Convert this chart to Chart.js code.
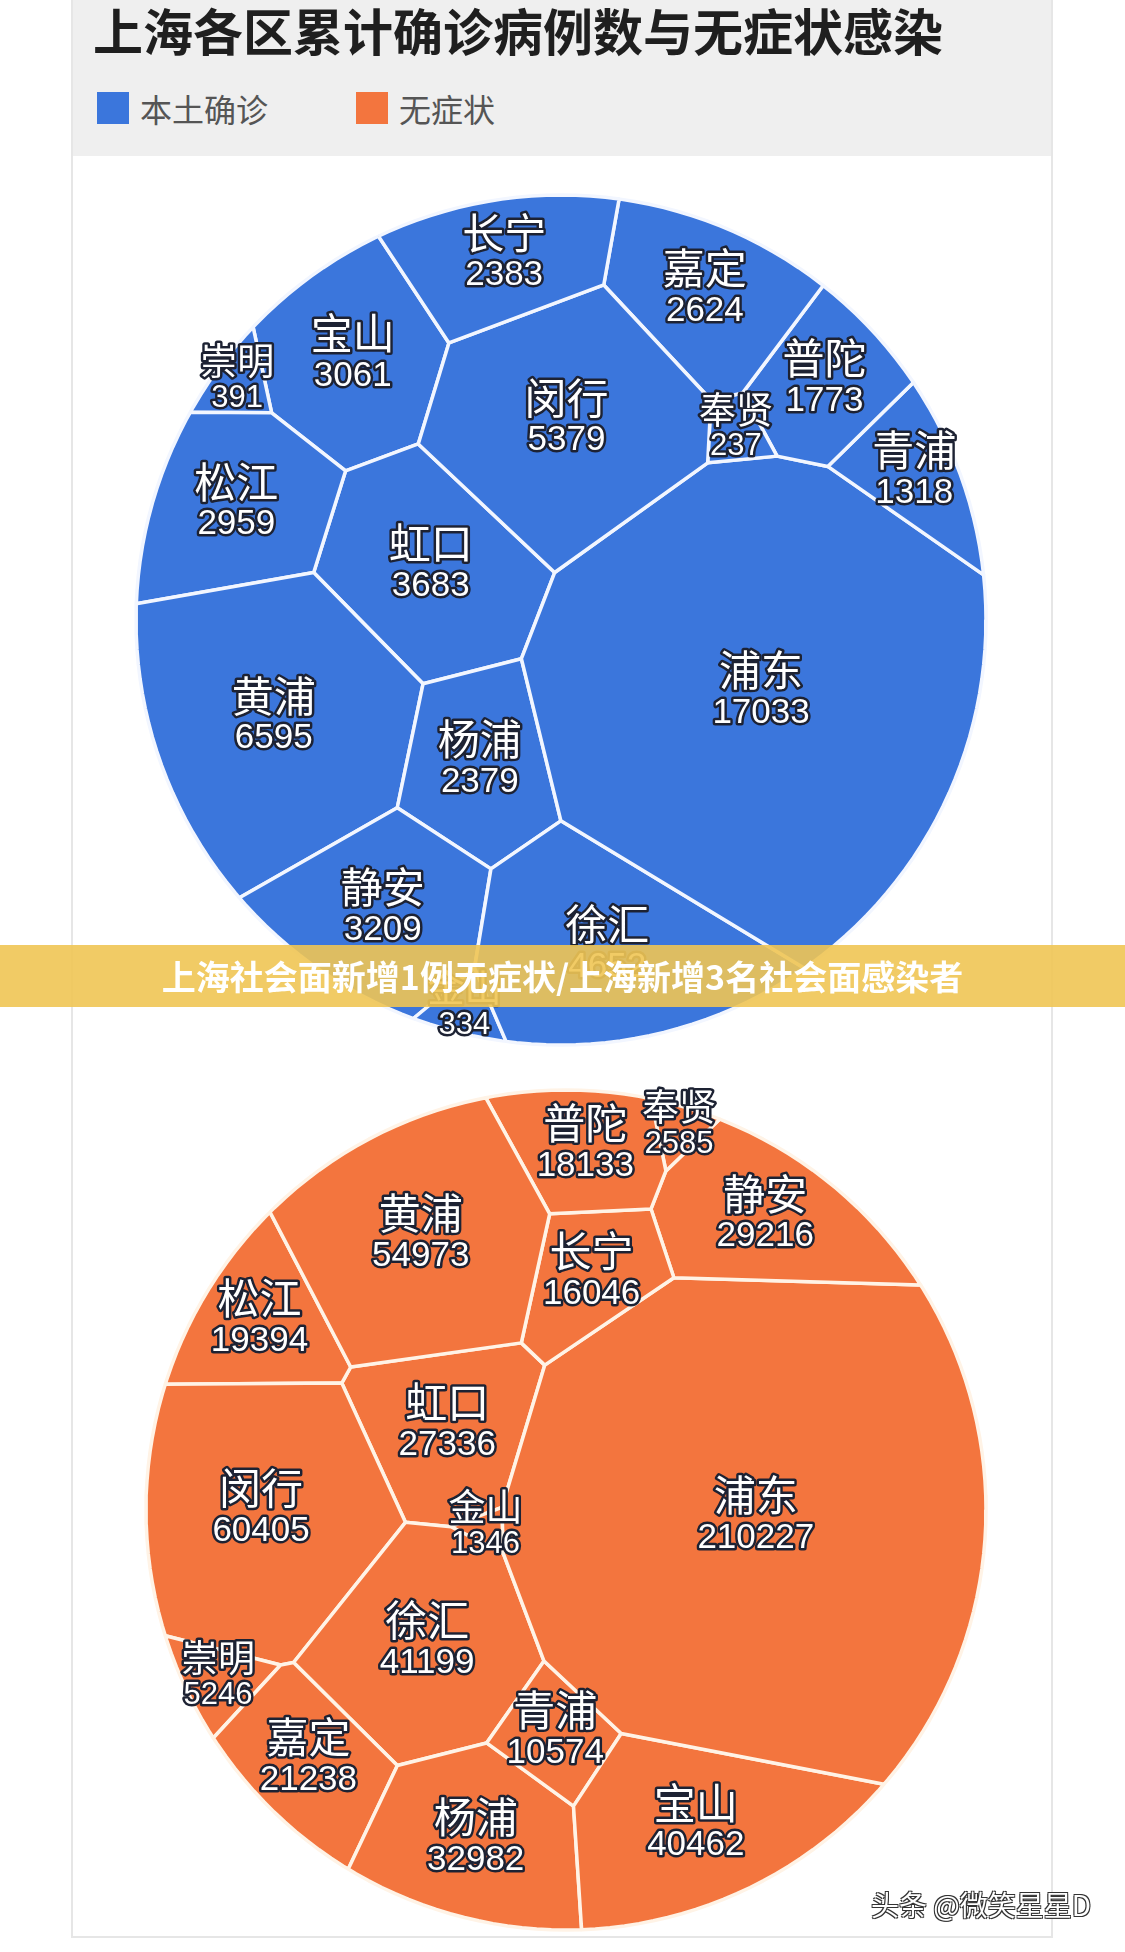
<!DOCTYPE html>
<html lang="zh">
<head>
<meta charset="utf-8">
<title>上海各区累计确诊病例数与无症状感染</title>
<script src="https://cdn.jsdelivr.net/npm/chart.js@4.4.1/dist/chart.umd.min.js"></script>
<style>
  html, body { margin: 0; padding: 0; background: #fff; }
  body { position: relative; width: 1125px; height: 1952px; overflow: hidden; font-family: "Noto Sans CJK SC", sans-serif; }
  #card { position: absolute; left: 71px; top: 0; width: 978px; height: 1936px; background: #fff; border: 2px solid #e6e6e6; border-top: none; }
  #head { position: absolute; left: 0; top: 0; width: 100%; height: 156px; background: #efefef; }
  #title { position: absolute; left: 20px; top: 0; font-size: 50px; line-height: 58px; font-weight: 700; color: #1f1f1f; white-space: nowrap; }
  #legend { position: absolute; left: 24px; top: 88px; height: 40px; display: flex; align-items: center; font-size: 32px; color: #555; }
  .item { display: flex; align-items: center; margin-right: 88px; }
  .sw { width: 32px; height: 32px; margin-right: 11px; }
  canvas { position: absolute; }
  #banner { position: absolute; left: 0; top: 945px; width: 1125px; height: 62px; background: rgba(240, 197, 84, 0.9);
            color: #fff; font-size: 34px; font-weight: 700; line-height: 62px; text-align: center; z-index: 5; }
  #wm { position: absolute; left: 871px; top: 1884px; font-size: 28px; color: #fff; z-index: 5;
        text-shadow: -1px -1px 0 #333, 1px -1px 0 #333, -1px 1px 0 #333, 1px 1px 0 #333; }
</style>
</head>
<body>
<div id="card">
  <div id="head">
    <div id="title">上海各区累计确诊病例数与无症状感染</div>
    <div id="legend"></div>
  </div>
</div>
<canvas id="blueChart" width="880" height="880" style="left:121px;top:180px"></canvas>
<canvas id="orangeChart" width="880" height="880" style="left:126px;top:1070px"></canvas>
<div id="banner">上海社会面新增1例无症状/上海新增3名社会面感染者</div>
<div id="wm">头条 @微笑星星D</div>
<script>
// 本土确诊 (clockwise order round the circle)
const blueNames  = ['长宁', '闵行', '嘉定', '奉贤', '普陀', '青浦', '浦东', '徐汇', '金山', '静安', '杨浦', '黄浦', '松江', '虹口', '崇明', '宝山'];
const blueValues = [2383, 5379, 2624, 237, 1773, 1318, 17033, 4652, 334, 3209, 2379, 6595, 2959, 3683, 391, 3061];

// 无症状
const orangeNames  = ['黄浦', '普陀', '长宁', '奉贤', '静安', '浦东', '宝山', '青浦', '杨浦', '嘉定', '徐汇', '崇明', '闵行', '金山', '松江', '虹口'];
const orangeValues = [54973, 18133, 16046, 2585, 29216, 210227, 40462, 10574, 32982, 21238, 41199, 5246, 60405, 1346, 19394, 27336];

const seriesNames  = ['本土确诊', '无症状'];
const seriesColors = ['#3b76dc', '#f3753e'];

// districts that start in the inner ring / the middle of the layout
const blueInner   = ['闵行', '奉贤', '杨浦', '虹口'];
const blueCore    = [];
const orangeInner = ['长宁', '青浦', '徐汇', '虹口'];
const orangeCore  = ['金山'];

// legend
const legend = document.getElementById('legend');
seriesNames.forEach((name, i) => {
  const item = document.createElement('div');
  item.className = 'item';
  item.innerHTML = '<div class="sw" style="background:' + seriesColors[i] + '"></div>' + name;
  legend.appendChild(item);
});

// ---- power diagram helpers ----
function diskPolygon(k) {
  const pts = [];
  for (let i = 0; i < k; i++) {
    const a = 2 * Math.PI * i / k;
    pts.push([Math.cos(a), Math.sin(a)]);
  }
  return pts;
}

function clipPoly(poly, a, b, c) { // keep a*x + b*y <= c
  const out = [];
  for (let i = 0; i < poly.length; i++) {
    const P = poly[i], Q = poly[(i + 1) % poly.length];
    const dp = a * P[0] + b * P[1] - c, dq = a * Q[0] + b * Q[1] - c;
    if (dp <= 0) out.push(P);
    if ((dp <= 0) !== (dq <= 0)) {
      const t = dp / (dp - dq);
      out.push([P[0] + t * (Q[0] - P[0]), P[1] + t * (Q[1] - P[1])]);
    }
  }
  return out;
}

function powerCells(sites, disk) {
  return sites.map((s, i) => {
    let poly = disk;
    for (let j = 0; j < sites.length; j++) {
      if (j === i) continue;
      const t = sites[j];
      const a = 2 * (t.x - s.x), b = 2 * (t.y - s.y);
      const c = t.x * t.x + t.y * t.y - s.x * s.x - s.y * s.y - t.w + s.w;
      poly = clipPoly(poly, a, b, c);
      if (poly.length < 3) return [];
    }
    return poly;
  });
}

function polyArea(p) {
  let s = 0;
  for (let i = 0; i < p.length; i++) {
    const a = p[i], b = p[(i + 1) % p.length];
    s += a[0] * b[1] - b[0] * a[1];
  }
  return Math.abs(s / 2);
}

function polyCentroid(p) {
  let cx = 0, cy = 0, s = 0;
  for (let i = 0; i < p.length; i++) {
    const a = p[i], b = p[(i + 1) % p.length];
    const f = a[0] * b[1] - b[0] * a[1];
    s += f; cx += (a[0] + b[0]) * f; cy += (a[1] + b[1]) * f;
  }
  return [cx / (3 * s), cy / (3 * s)];
}

function fixOverweight(sites) {
  let again = true, guard = 0;
  while (again && guard++ < 200) {
    again = false;
    for (let i = 0; i < sites.length; i++) {
      for (let j = i + 1; j < sites.length; j++) {
        const a = sites[i], b = sites[j];
        const d2 = (a.x - b.x) ** 2 + (a.y - b.y) ** 2;
        const big = a.w > b.w ? a : b, small = big === a ? b : a;
        if (big.w - small.w > d2) { big.w = small.w + d2 * 0.999; again = true; }
      }
    }
  }
}

// seeds: outer ring spaced by sqrt(value), inner/core ones at the joins
function ringSeeds(names, values, inner, core, startDeg) {
  const isIn = n => inner.includes(n) || core.includes(n);
  const outerTotal = values.reduce((s, v, i) => s + (isIn(names[i]) ? 0 : Math.sqrt(v)), 0);
  let acc = 0;
  return names.map((n, i) => {
    if (isIn(n)) {
      const a = (startDeg + acc / outerTotal * 360) * Math.PI / 180;
      const r = core.includes(n) ? 0.12 : 0.36;
      return [r * Math.cos(a), r * Math.sin(a)];
    }
    const s = Math.sqrt(values[i]);
    const a = (startDeg + (acc + s / 2) / outerTotal * 360) * Math.PI / 180;
    acc += s;
    return [0.75 * Math.cos(a), 0.75 * Math.sin(a)];
  });
}

function voronoiTreemap(values, seeds) {
  const disk = diskPolygon(180);
  const diskArea = polyArea(disk);
  const total = values.reduce((a, b) => a + b, 0);
  const sites = seeds.map((p, i) => ({ x: p[0], y: p[1], w: diskArea / values.length / 2, target: values[i] / total * diskArea }));
  let gain = 1, lastErr = Infinity;
  for (let it = 0; it < 900; it++) {
    let cells = powerCells(sites, disk);
    cells.forEach((c, i) => {
      if (c.length > 2) { const g = polyCentroid(c); sites[i].x = g[0]; sites[i].y = g[1]; }
    });
    fixOverweight(sites);
    cells = powerCells(sites, disk);
    let err = 0, maxW = 0;
    cells.forEach((c, i) => {
      const a = c.length > 2 ? polyArea(c) : 0;
      err += Math.abs(a - sites[i].target);
      let r = a > 0 ? sites[i].target / a : 1.5;
      r = Math.pow(Math.min(1.5, Math.max(0.67, r)), gain);
      sites[i].w *= r;
      maxW = Math.max(maxW, sites[i].w);
    });
    sites.forEach(s => { s.w = Math.max(s.w, maxW * 0.005); });
    fixOverweight(sites);
    err /= 2 * diskArea;
    if (err > lastErr) gain = Math.max(0.2, gain * 0.92);
    lastErr = err;
    if (err < 0.002) break;
  }
  return powerCells(sites, disk);
}

function outlined(ctx, text, x, y, font) {
  ctx.font = font;
  ctx.lineWidth = 5;
  ctx.strokeStyle = '#1d2233';
  ctx.strokeText(text, x, y);
  ctx.fillStyle = '#fff';
  ctx.fillText(text, x, y);
}

function labelPlugin(names, values, cells) {
  const total = values.reduce((a, b) => a + b, 0);
  return {
    id: 'cellLabels',
    afterDatasetsDraw(chart) {
      const { ctx, scales: { x, y } } = chart;
      ctx.save();
      ctx.textAlign = 'center';
      ctx.textBaseline = 'middle';
      ctx.lineJoin = 'round';
      cells.forEach((poly, i) => {
        if (poly.length < 3) return;
        const g = polyCentroid(poly);
        const px = x.getPixelForValue(g[0]), py = y.getPixelForValue(g[1]);
        const small = values[i] / total < 0.012;
        const off = small ? 18 : 21;
        outlined(ctx, names[i], px, py - off - 4, (small ? 37 : 42) + 'px "Noto Sans CJK SC"');
        outlined(ctx, String(values[i]), px, py + off - 3, (small ? 31 : 35) + 'px "Liberation Sans", Arial, sans-serif');
      });
      ctx.restore();
    }
  };
}

function buildChart(canvasId, names, values, inner, core, startDeg, radiusPx, fillColor, edgeColor) {
  const cells = voronoiTreemap(values, ringSeeds(names, values, inner, core, startDeg));
  const canvas = document.getElementById(canvasId);
  const lim = canvas.width / 2 / radiusPx;
  return new Chart(canvas, {
    type: 'scatter',
    data: {
      datasets: cells.map((poly, i) => ({
        label: names[i],
        data: poly.concat([poly[0]]).map(p => ({ x: p[0], y: p[1] })),
        showLine: true,
        fill: 'shape',
        backgroundColor: fillColor,
        borderColor: edgeColor,
        borderWidth: 3.5,
        borderJoinStyle: 'round',
        pointRadius: 0,
        pointHoverRadius: 0
      }))
    },
    options: {
      responsive: false,
      animation: false,
      devicePixelRatio: 1,
      events: [],
      layout: { padding: 0 },
      scales: {
        x: { type: 'linear', min: -lim, max: lim, display: false },
        y: { type: 'linear', min: -lim, max: lim, reverse: true, display: false }
      },
      plugins: { legend: { display: false }, tooltip: { enabled: false } }
    },
    plugins: [labelPlugin(names, values, cells)]
  });
}

buildChart('blueChart', blueNames, blueValues, blueInner, blueCore, 251, 425, seriesColors[0], '#f2f6ff');
buildChart('orangeChart', orangeNames, orangeValues, orangeInner, orangeCore, 222, 420, seriesColors[1], '#fff3e6');
</script>
</body>
</html>
